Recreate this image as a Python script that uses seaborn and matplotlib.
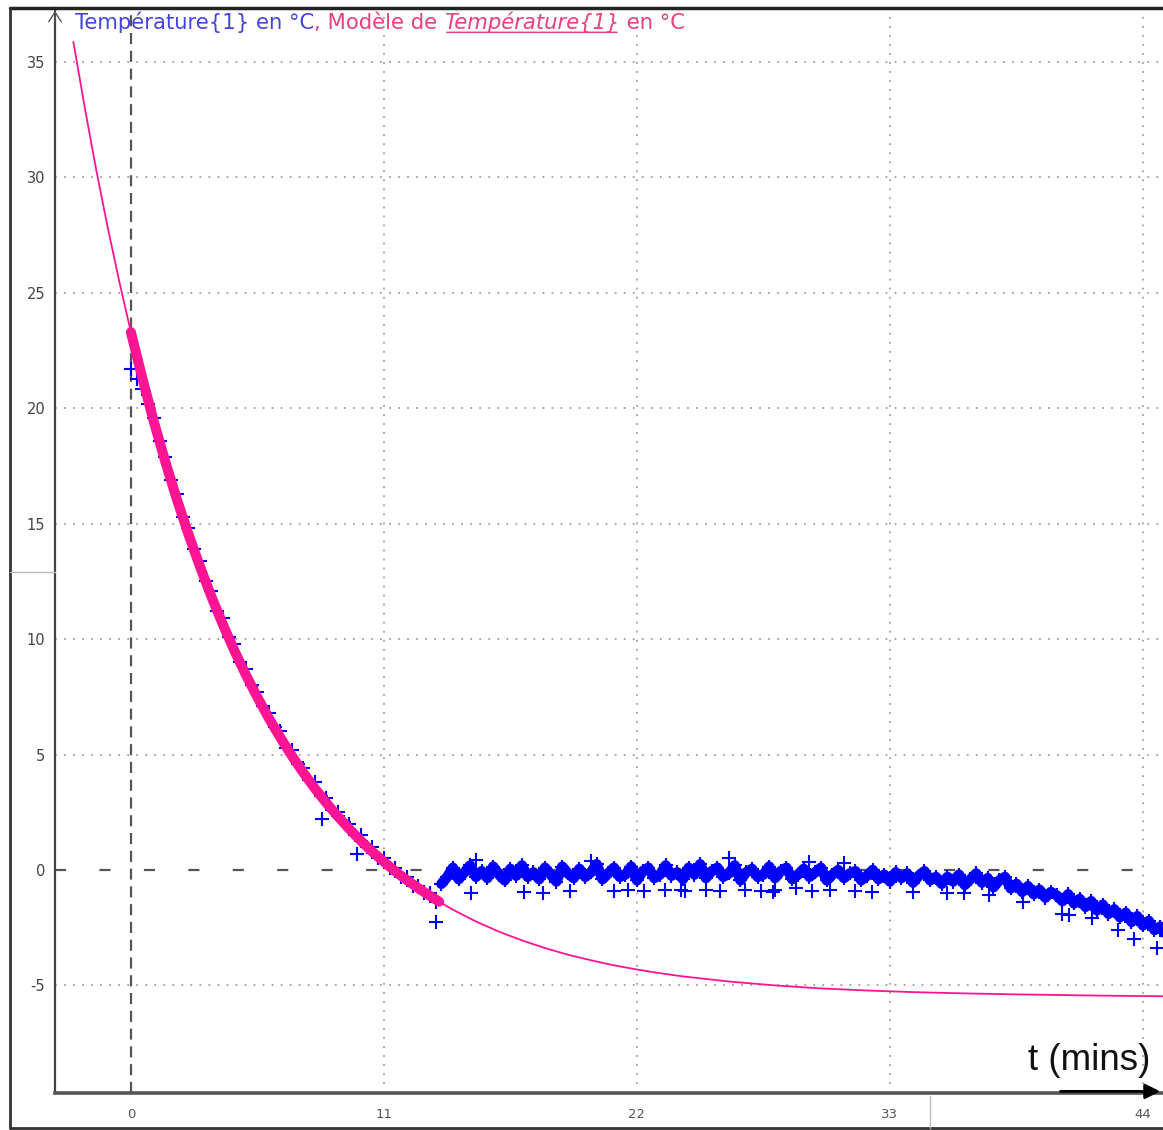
import numpy as np
import pandas as pd
import matplotlib
matplotlib.use("Agg")
import matplotlib.pyplot as plt
from matplotlib.lines import Line2D
import seaborn as sns

# ---------------- data ----------------
model_t = [-2.5, -2, -1.5, -1, -0.5, 0, 0.5, 1, 1.5, 2, 2.5, 3, 3.5, 4, 4.5, 5,
           5.5, 6, 6.5, 7, 7.5, 8, 8.5, 9, 9.5, 10, 10.5, 11, 11.5, 12, 12.5, 13,
           13.4, 14, 15, 16, 17, 18, 19, 20, 21, 22, 23, 24, 26, 28, 30, 32, 34,
           36, 38, 40, 42, 44.9]
model_T = [35.87, 32.99, 30.29, 27.79, 25.47, 23.30, 21.29, 19.41, 17.67, 16.05,
           14.55, 13.15, 11.84, 10.63, 9.50, 8.45, 7.48, 6.57, 5.73, 4.94, 4.21,
           3.53, 2.90, 2.32, 1.77, 1.26, 0.79, 0.35, -0.06, -0.44, -0.79, -1.12,
           -1.37, -1.72, -2.23, -2.67, -3.05, -3.38, -3.67, -3.91, -4.13, -4.31,
           -4.47, -4.61, -4.83, -5.00, -5.13, -5.22, -5.29, -5.34, -5.38, -5.41,
           -5.44, -5.47]
fit_start, fit_end = 0.0, 13.4

sample_step = 0.25
decay_start = 0.0
decay_T = [21.7, 21.25, 20.85, 20.2, 19.6, 18.6, 17.9, 16.9,
           16.3, 15.3, 14.8, 13.9, 13.4, 12.5, 12.1, 11.2,
           10.9, 10.1, 9.8, 9.0, 8.7, 8.0, 7.7, 7.1,
           6.8, 6.2, 6.0, 5.3, 5.2, 4.6, 4.4, 3.9,
           3.8, 3.2, 3.1, 2.6, 2.5, 2.1, 2.0, 1.5,
           1.5, 1.0, 1.0, 0.5, 0.5, 0.1, 0.1, -0.3,
           -0.3, -0.7, -0.7, -1.0, -1.0, -1.4]
plateau_start = 13.5
plateau_T = [-0.6, -0.3, 0.1, -0.4, -0.1, 0.2, -0.3, -0.05,
             -0.35, 0.15, -0.2, -0.45, 0.05, -0.25, 0.2, -0.3,
             -0.1, -0.4, 0.1, -0.2, -0.5, 0.15, -0.15, -0.35,
             0.05, -0.3, -0.1, 0.25, -0.4, -0.15, 0.1, -0.3,
             -0.2, 0.15, -0.45, -0.05, 0.1, -0.35, -0.2, 0.2,
             -0.25, -0.1, -0.4, 0.1, -0.2, 0.25, -0.35, -0.05,
             0.1, -0.3, -0.15, 0.2, -0.45, -0.1, 0.05, -0.3,
             -0.2, 0.15, -0.35, -0.05, 0.1, -0.4, -0.2, 0.05,
             -0.3, -0.1, 0.1, -0.45, -0.2, 0.0, -0.35, -0.15,
             -0.05, -0.45, -0.25, 0.0, -0.4, -0.2, -0.5, -0.1,
             -0.35, -0.15, -0.55, -0.25, -0.05, -0.45, -0.3, -0.6,
             -0.3, -0.5, -0.2, -0.65, -0.4, -0.15, -0.55, -0.35,
             -0.75, -0.45, -0.3, -0.8, -0.6, -0.95, -0.7, -1.05,
             -0.85, -1.2, -0.95, -1.1, -1.35, -1.05, -1.45, -1.25,
             -1.6, -1.35, -1.75, -1.5, -1.9, -1.7, -2.05, -1.85,
             -2.25, -2.0, -2.4, -2.2, -2.6, -2.45, -2.85, -2.7]
outlier_t = [8.3, 9.85, 13.25, 14.8, 17.1, 17.9, 21.0, 21.6, 22.3, 23.2, 24.1,
             25.0, 25.6, 26.7, 27.4, 28.0, 28.9, 29.6, 30.4, 31.5, 32.2, 34.0,
             35.5, 37.3, 40.5, 40.8, 41.8, 44.6, 15.0, 20.0, 26.0, 29.5,
             19.1, 23.9, 27.9, 31.0, 36.2, 38.8, 42.9, 43.6]
outlier_T = [2.2, 0.7, -2.25, -1.0, -0.95, -1.0, -0.9, -0.85, -0.9, -0.85, -0.9,
             -0.85, -0.9, -0.85, -0.9, -0.85, -0.8, -0.9, -0.85, -0.9, -0.95,
             -0.95, -1.0, -1.1, -1.9, -1.95, -2.1, -3.4, 0.45, 0.4, 0.5, 0.35,
             -0.9, -0.85, -0.95, 0.3, -1.0, -1.4, -2.6, -3.0]

x_ticks = [0, 11, 22, 33, 44]
y_ticks = [-5, 0, 5, 10, 15, 20, 25, 30, 35]
x_lim = (-3.30, 44.87)
y_lim = (-9.66, 37.34)

title_parts = ["Température{1} en °C", ", Modèle de ", "Température{1}", " en °C"]
x_label = "t (mins)"

BLUE = "#0000ff"
PINK = "#ff1493"
TITLE_BLUE = "#4444dd"
TITLE_PINK = "#e6407e"

# ---------------- build frames ----------------
decay_t = decay_start + sample_step * np.arange(len(decay_T))
plateau_t = plateau_start + sample_step * np.arange(len(plateau_T))
plateau = pd.DataFrame({"t": plateau_t, "T": plateau_T})
blue = pd.concat([pd.DataFrame({"t": decay_t, "T": decay_T}), plateau,
                  pd.DataFrame({"t": outlier_t, "T": outlier_T})],
                 ignore_index=True)
model = pd.DataFrame({"t": model_t, "T": model_T})
fit = model[(model["t"] >= fit_start) & (model["t"] <= fit_end)]

sns.set_style("white")
plt.rcParams["font.family"] = ["DejaVu Sans"]
plt.rcParams["axes.unicode_minus"] = False

W, H = 1163, 1130
fig = plt.figure(figsize=(W / 100, H / 100), dpi=100, facecolor="white")
ax = fig.add_axes([55 / W, 1 - 1093 / H, (W - 55) / W, (1093 - 8) / H])
ax.set_xlim(*x_lim)
ax.set_ylim(*y_lim)

# grid (dotted) except zero lines, which are dashed
for xv in x_ticks:
    if xv == 0:
        ax.axvline(xv, color="#555555", lw=1.6, ls=(0, (5, 3)), zorder=1)
    else:
        ax.axvline(xv, color="#a0a0a0", lw=1.3, ls=(0, (1, 4)), zorder=1)
for yv in y_ticks:
    if yv == 0:
        ax.axhline(yv, color="#555555", lw=1.6, ls=(0, (5, 15)), zorder=1)
    else:
        ax.axhline(yv, color="#a0a0a0", lw=1.3, ls=(0, (1, 4)), zorder=1)

# dense acquisition after the jump: the points merge into a band
sns.lineplot(data=plateau, x="t", y="T", color=BLUE, lw=7.5, ax=ax, zorder=3,
             estimator=None, sort=False, legend=False)
sns.scatterplot(data=blue, x="t", y="T", marker="+", color=BLUE, s=100,
                linewidth=1.5, ax=ax, zorder=3, legend=False)
sns.lineplot(data=model, x="t", y="T", color=PINK, lw=1.3, ax=ax, zorder=4,
             estimator=None, sort=False, legend=False)
sns.lineplot(data=fit, x="t", y="T", color=PINK, lw=7.2, ax=ax, zorder=5,
             estimator=None, sort=False, legend=False,
             solid_capstyle="round")

ax.set_xlabel("")
ax.set_ylabel("")
ax.set_xticks(x_ticks)
ax.set_yticks(y_ticks)
ax.tick_params(axis="x", length=0, pad=11, labelsize=9.5, labelcolor="#555555")
ax.tick_params(axis="y", length=0, pad=7, labelsize=10.5, labelcolor="#444444")

for s in ["top", "right"]:
    ax.spines[s].set_visible(False)
ax.spines["left"].set_color("#444444")
ax.spines["left"].set_linewidth(1.6)
ax.spines["bottom"].set_color("#555555")
ax.spines["bottom"].set_linewidth(2.6)

# axis arrows
ax.annotate("", xy=(1.0, 0.0015), xycoords="axes fraction",
            xytext=(0.905, 0.0015), textcoords="axes fraction",
            arrowprops=dict(arrowstyle="-|>,head_length=0.9,head_width=0.45",
                            color="black", lw=2), zorder=6, annotation_clip=False)
ax.annotate("", xy=(0.0, 1.0), xycoords="axes fraction",
            xytext=(0.0, 0.985), textcoords="axes fraction",
            arrowprops=dict(arrowstyle="->,head_length=0.7,head_width=0.45",
                            color="#555555", lw=1), zorder=6, annotation_clip=False)

# title pieces
FS = 15.2
t1 = ax.text((75 - 55) / (W - 55), 1 - (29 - 8) / (1093 - 8), title_parts[0],
             transform=ax.transAxes, color=TITLE_BLUE, fontsize=FS, va="baseline")
t2 = ax.annotate(title_parts[1], xy=(1, 0), xycoords=t1, va="bottom",
                 color=TITLE_PINK, fontsize=FS)
t3 = ax.annotate(title_parts[2], xy=(1, 0), xycoords=t2, va="bottom",
                 color=TITLE_PINK, fontsize=FS, style="italic")
t4 = ax.annotate(title_parts[3], xy=(1, 0), xycoords=t3, va="bottom",
                 color=TITLE_PINK, fontsize=FS)
ax.annotate("", xy=(0, 0.03), xycoords=t3, xytext=(1, 0.03), textcoords=t3,
            arrowprops=dict(arrowstyle="-", color=TITLE_PINK, lw=1.1))

# x label
ax.text((1028 - 55) / (W - 55), (1093 - 1078) / (1093 - 8), x_label,
        transform=ax.transAxes, fontsize=26.5, family=["Liberation Sans"],
        color="#111111", va="bottom", ha="left")

# frame lines of the window
def fx(px):
    return px / W

def fy(py):
    return 1 - py / H

fig.add_artist(Line2D([fx(10), 1], [fy(8), fy(8)], color="#222222", lw=2.5))
fig.add_artist(Line2D([fx(10), fx(10)], [fy(8), fy(1128)], color="#333333", lw=2))
fig.add_artist(Line2D([fx(10), 1], [fy(1128), fy(1128)], color="#333333", lw=2))
fig.add_artist(Line2D([fx(10), fx(55)], [fy(572), fy(572)], color="#bbbbbb", lw=1))
fig.add_artist(Line2D([fx(930), fx(930)], [fy(1096), fy(1128)], color="#bbbbbb", lw=1))

fig.savefig("out.png", dpi=100, facecolor="white")
